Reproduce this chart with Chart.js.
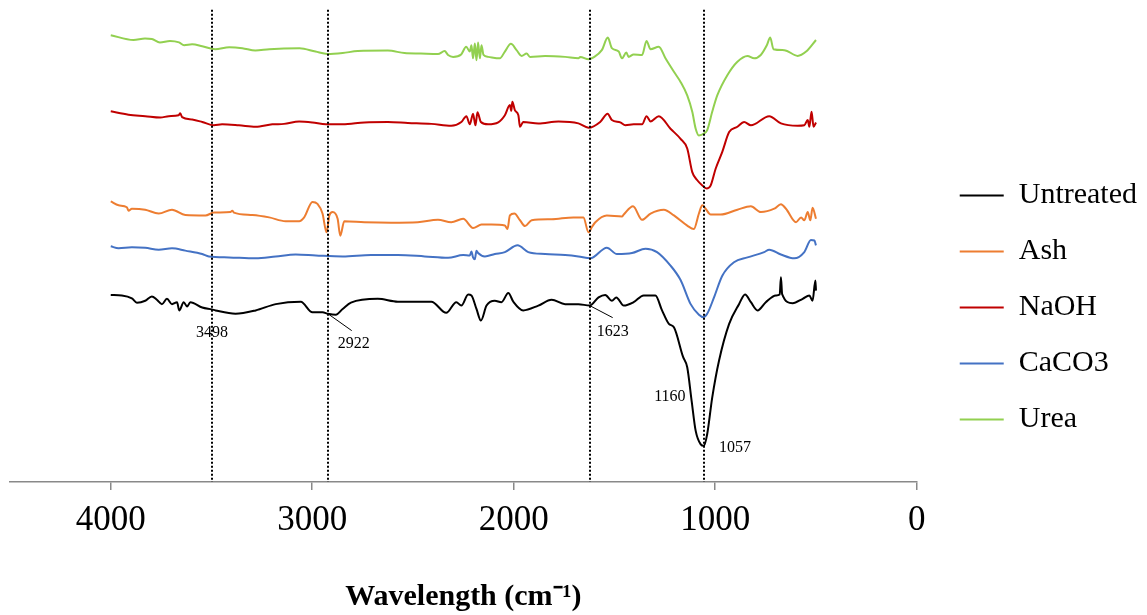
<!DOCTYPE html>
<html>
<head>
<meta charset="utf-8">
<script src="https://cdn.jsdelivr.net/npm/chart.js@4/dist/chart.umd.min.js"></script>
<style>
  html, body { margin: 0; padding: 0; background: #ffffff; }
  #wrap { width: 1147px; height: 615px; }
</style>
</head>
<body>
<div id="wrap"><canvas id="ftir" width="1147" height="615"></canvas></div>
<script>
// FTIR spectra: [wavenumber (cm-1), transmittance (a.u., stacked)]
const untreated = [
  [4000,38.8],[3945,38.7],[3895,38.1],[3870,37.2],[3829,37.6],[3796,38.5],[3771,37.8],[3746,36.9],
  [3721,38.0],[3696,36.9],[3671,37.3],[3660,35.6],[3638,37.3],[3621,36.4],[3605,37.3],[3546,36.2],
  [3498,35.8],[3480,35.6],[3381,34.9],[3281,35.6],[3181,36.9],[3057,37.4],[2999,35.2],[2949,35.2],
  [2922,34.9],[2883,34.7],[2849,35.9],[2808,37.2],[2675,38.0],[2575,37.4],[2409,37.4],[2335,35.1],
  [2285,37.3],[2260,36.6],[2226,38.9],[2210,38.7],[2185,35.9],[2163,33.5],[2135,36.6],[2094,37.6],
  [2061,37.3],[2027,39.2],[2002,37.4],[1953,35.6],[1878,36.6],[1812,37.8],[1745,36.9],[1679,36.9],
  [1623,36.6],[1579,38.3],[1546,38.8],[1513,37.6],[1491,38.3],[1454,36.6],[1405,37.3],[1355,38.7],
  [1297,38.7],[1264,35.6],[1230,32.8],[1205,32.1],[1160,26.0],[1139,23.8],[1117,16.8],[1097,10.6],
  [1072,7.8],[1057,7.5],[1040,9.9],[1015,17.5],[981,25.2],[931,32.8],[882,36.9],[852,38.9],
  [823,37.3],[790,35.6],[749,37.3],[699,38.7],[680,38.9],[674,42.5],[668,39.0],[616,37.1],
  [566,38.0],[533,38.7],[517,37.6],[503,41.8],[500,39.7]
];
const ash = [
  [4000,58.2],[3961,57.4],[3920,57.0],[3912,56.3],[3895,56.7],[3829,56.5],[3762,55.7],[3696,56.5],
  [3630,55.4],[3530,55.3],[3488,55.9],[3406,56.0],[3397,56.3],[3389,55.9],[3297,55.4],[3214,54.9],
  [3132,54.1],[3065,54.1],[3040,54.9],[2999,58.1],[2974,57.7],[2949,55.7],[2929,51.8],[2915,55.3],
  [2899,56.0],[2874,54.6],[2861,51.1],[2841,54.1],[2741,53.9],[2609,53.8],[2476,53.9],[2376,54.4],
  [2310,53.9],[2251,54.6],[2202,52.7],[2160,53.4],[2110,53.4],[2044,53.2],[2031,52.5],[2019,55.3],
  [1997,55.7],[1969,54.3],[1944,53.1],[1911,54.3],[1812,54.5],[1704,54.9],[1654,54.9],[1629,51.8],
  [1612,52.9],[1595,53.9],[1538,55.3],[1463,55.1],[1454,55.5],[1408,57.2],[1363,54.4],[1321,55.7],
  [1255,56.5],[1205,55.3],[1139,53.2],[1106,52.5],[1081,55.7],[1064,57.4],[1048,56.7],[1023,55.5],
  [973,55.5],[890,56.5],[823,57.2],[774,56.0],[707,56.7],[674,57.6],[649,56.7],[599,53.9],
  [574,54.9],[558,54.3],[541,56.0],[528,54.3],[517,56.9],[500,54.6]
];
const naoh = [
  [4000,76.9],[3912,76.2],[3829,75.9],[3754,75.6],[3712,75.9],[3663,76.1],[3655,76.5],[3646,75.7],
  [3596,75.2],[3546,74.7],[3488,74.0],[3447,74.2],[3364,74.0],[3281,73.7],[3198,74.2],[3140,74.3],
  [3065,74.8],[2999,74.6],[2932,74.2],[2849,74.2],[2741,74.6],[2625,74.7],[2525,74.5],[2409,74.3],
  [2310,73.9],[2260,74.7],[2235,75.9],[2218,74.2],[2202,76.4],[2190,74.0],[2180,76.7],[2163,74.7],
  [2127,74.2],[2077,74.6],[2044,76.1],[2019,78.2],[2012,77.0],[2007,78.9],[1994,77.1],[1977,76.1],
  [1969,73.7],[1953,74.7],[1878,74.4],[1778,74.8],[1679,74.4],[1629,73.5],[1571,74.7],[1534,76.4],
  [1513,75.1],[1471,74.6],[1446,74.0],[1405,74.2],[1363,74.2],[1341,75.9],[1321,74.8],[1280,75.9],
  [1222,73.3],[1172,71.2],[1139,69.2],[1114,64.3],[1089,62.6],[1064,61.5],[1043,60.9],[1023,61.5],
  [998,65.0],[965,68.5],[931,72.6],[890,73.7],[857,74.7],[823,74.0],[732,75.9],[674,74.4],
  [591,73.9],[558,74.0],[541,75.1],[533,73.7],[522,76.8],[512,73.7],[500,74.6]
];
const caco3 = [
  [4000,48.9],[3961,48.5],[3895,48.7],[3829,48.6],[3762,48.2],[3696,48.5],[3630,48.0],[3546,47.3],
  [3513,46.8],[3413,46.6],[3281,46.4],[3181,46.8],[3082,47.2],[2982,47.0],[2849,46.8],[2708,47.1],
  [2575,47.1],[2442,46.8],[2326,46.5],[2251,47.1],[2218,47.0],[2210,47.8],[2202,46.6],[2193,46.2],
  [2185,48.0],[2177,47.5],[2143,46.8],[2094,47.3],[2044,47.7],[1981,49.1],[1928,47.7],[1844,47.3],
  [1745,47.1],[1679,46.8],[1620,46.4],[1538,48.6],[1488,47.3],[1413,47.5],[1346,48.4],[1289,47.7],
  [1222,44.9],[1172,41.9],[1122,36.9],[1081,34.7],[1059,34.2],[1040,34.9],[1006,38.3],[965,42.8],
  [907,45.6],[840,46.6],[757,47.7],[732,48.2],[674,47.2],[608,46.4],[558,47.7],[525,50.2],
  [508,50.1],[500,49.1]
];
const urea = [
  [4000,92.7],[3887,91.7],[3830,92.0],[3796,91.9],[3756,91.2],[3706,91.5],[3661,91.2],[3636,90.6],
  [3596,90.8],[3546,90.4],[3482,89.8],[3412,90.2],[3347,90.0],[3282,89.5],[3213,89.8],[3063,90.0],
  [2984,89.3],[2924,88.8],[2849,89.0],[2774,89.4],[2625,89.5],[2542,89.0],[2461,88.9],[2376,88.8],
  [2343,89.4],[2326,88.6],[2301,88.2],[2261,88.7],[2236,90.3],[2218,89.3],[2210,90.6],[2202,87.9],
  [2193,91.0],[2185,87.5],[2177,91.2],[2168,87.9],[2160,90.6],[2150,88.6],[2127,88.2],[2069,87.9],
  [2044,89.3],[2014,90.9],[1986,89.6],[1961,88.4],[1936,88.9],[1919,88.2],[1844,88.4],[1745,88.2],
  [1679,87.9],[1670,88.2],[1629,87.7],[1604,88.1],[1563,89.6],[1533,92.2],[1513,90.0],[1479,89.3],
  [1463,87.9],[1441,89.1],[1430,88.2],[1405,88.7],[1363,88.6],[1341,91.5],[1321,89.8],[1280,90.3],
  [1247,87.9],[1205,85.1],[1172,83.0],[1139,80.2],[1114,76.8],[1097,73.3],[1081,71.9],[1056,72.3],
  [1040,73.0],[1015,76.8],[990,80.2],[940,84.4],[890,87.2],[840,88.4],[807,87.9],[774,88.6],
  [744,90.6],[727,92.2],[711,89.8],[657,89.6],[591,88.4],[549,89.3],[500,91.7]
];

const seriesNames = ['Untreated', 'Ash', 'NaOH', 'CaCO3', 'Urea'];
const seriesData = [untreated, ash, naoh, caco3, urea];
const seriesColors = ['#000000', '#ED7D31', '#C00000', '#4472C4', '#92D050'];

const xTicks = [4000, 3000, 2000, 1000, 0];
const peakWavenumbers = [3498, 2922, 1623, 1057];
const peakLabels = ['3498', '2922', '1623', '1160', '1057'];

// where each peak label sits, in axis units (wavenumber, transmittance)
const peakLabelAt = [[3498, 31.0], [2794, 28.7], [1509, 31.2], [1225, 17.7], [902, 7.1]];
// short leader strokes from the curve to a label
const leaders = [[[2922, 34.9], [2804, 31.4]], [[1623, 36.6], [1509, 34.1]]];
const guideTop = 98;

const serif = "'Liberation Serif', 'Times New Roman', serif";

const peakGuides = {
  id: 'peakGuides',
  afterDatasetsDraw(chart) {
    const { ctx, chartArea, scales } = chart;
    const xs = scales.x, ys = scales.y;
    ctx.save();
    ctx.strokeStyle = '#000';
    ctx.lineWidth = 2;
    ctx.setLineDash([2, 2]);
    peakWavenumbers.forEach(w => {
      const px = Math.round(xs.getPixelForValue(w));
      ctx.beginPath();
      ctx.moveTo(px, ys.getPixelForValue(guideTop));
      ctx.lineTo(px, chartArea.bottom);
      ctx.stroke();
    });
    ctx.setLineDash([]);
    ctx.lineWidth = 1;
    leaders.forEach(([a, b]) => {
      ctx.beginPath();
      ctx.moveTo(xs.getPixelForValue(a[0]), ys.getPixelForValue(a[1]));
      ctx.lineTo(xs.getPixelForValue(b[0]), ys.getPixelForValue(b[1]));
      ctx.stroke();
    });
    ctx.fillStyle = '#000';
    ctx.font = "16px " + serif;
    ctx.textAlign = 'center';
    ctx.textBaseline = 'middle';
    peakLabels.forEach((t, i) => {
      const [w, v] = peakLabelAt[i];
      ctx.fillText(t, xs.getPixelForValue(w), ys.getPixelForValue(v));
    });
    ctx.restore();
  }
};

new Chart(document.getElementById('ftir'), {
  type: 'line',
  data: {
    datasets: seriesNames.map((name, i) => ({
      label: name,
      data: seriesData[i].map(([w, t]) => ({ x: w, y: t })),
      borderColor: seriesColors[i],
      backgroundColor: seriesColors[i],
      borderWidth: 2,
      pointRadius: 0,
      cubicInterpolationMode: 'monotone',
      fill: false
    }))
  },
  options: {
    responsive: false,
    animation: false,
    devicePixelRatio: 1,
    layout: { padding: { left: 10, right: 0, top: 0, bottom: 0 } },
    scales: {
      x: {
        type: 'linear',
        reverse: true,
        min: 0,
        max: 4500,
        afterBuildTicks(scale) { scale.ticks = xTicks.map(v => ({ value: v })); },
        ticks: {
          includeBounds: false,
          maxRotation: 0,
          padding: 10,
          color: '#000',
          font: { family: serif, size: 35 },
          callback: v => String(v)
        },
        grid: {
          display: true,
          drawOnChartArea: false,
          drawTicks: true,
          tickLength: 8,
          color: '#898989',
          lineWidth: 1.5
        },
        border: { display: true, color: '#898989', width: 1.5 },
        title: {
          display: true,
          text: 'Wavelength (cm\u207B\u00B9)',
          color: '#000',
          font: { family: serif, size: 30, weight: 'bold' },
          padding: { top: 27, bottom: 0 }
        }
      },
      y: {
        position: 'right',
        min: 0,
        max: 100,
        display: true,
        ticks: { display: false },
        grid: { display: false },
        border: { display: false },
        afterFit(scale) { scale.width = 17; }
      }
    },
    plugins: {
      legend: {
        position: 'right',
        align: 'center',
        labels: {
          color: '#000',
          font: { family: serif, size: 30 },
          boxWidth: 44,
          boxHeight: 2,
          padding: 26,
          generateLabels(chart) {
            return chart.data.datasets.map((ds, i) => ({
              text: ds.label,
              fillStyle: ds.borderColor,
              strokeStyle: ds.borderColor,
              lineWidth: 0,
              hidden: false,
              datasetIndex: i,
              fontColor: '#000'
            }));
          }
        }
      },
      tooltip: { enabled: false }
    }
  },
  plugins: [peakGuides]
});
</script>
</body>
</html>
